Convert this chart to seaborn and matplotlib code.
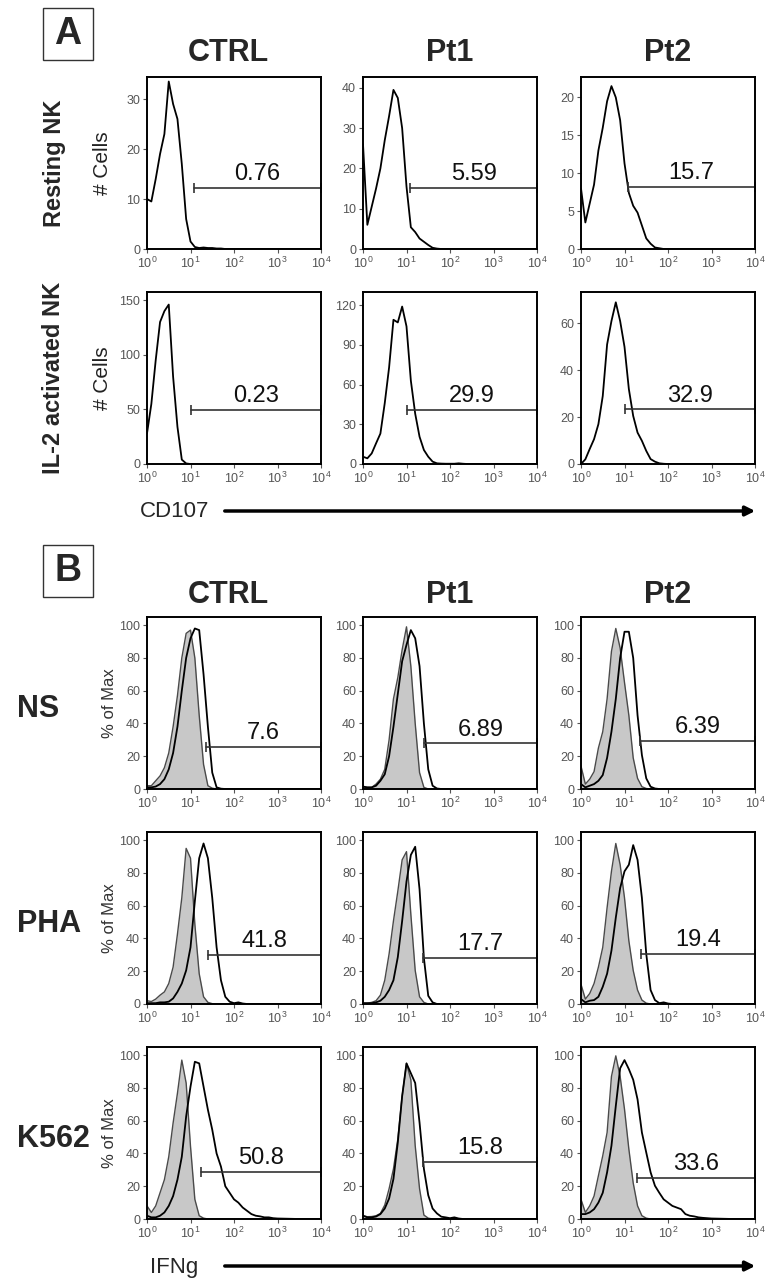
import numpy as np
import seaborn as sns
import matplotlib
matplotlib.use('Agg')
import matplotlib.pyplot as plt
from matplotlib.patches import Rectangle, FancyArrowPatch
from matplotlib.ticker import LogLocator, NullFormatter

# log10 of the fluorescence channel, shared by every histogram
LOG_X = [0.0, 0.1, 0.2, 0.3, 0.4, 0.5, 0.6, 0.7, 0.8, 0.9,
         1.0, 1.1, 1.2, 1.3, 1.4, 1.5, 1.6, 1.7, 1.8, 1.9,
         2.0, 2.1, 2.2, 2.3, 2.4, 2.5, 2.6, 2.7, 2.8, 2.9,
         3.0, 3.5, 4.0]

COLUMNS = ['CTRL', 'Pt1', 'Pt2']
A_ROWS = ['Resting NK', 'IL-2 activated NK']
B_ROWS = ['NS', 'PHA', 'K562']

# ---- A: CD107, # cells ----
A_REST_CTRL = [10, 9.5, 14, 19, 23, 33.5, 29, 26, 17, 6, 1.5, 0.4, 0.2, 0.3, 0.2, 0.2, 0.1, 0.1,
               0, 0, 0, 0, 0, 0, 0, 0, 0, 0, 0, 0, 0, 0, 0]
A_REST_PT1 = [26, 6, 10.5, 15, 20, 27, 33, 39.5, 37.5, 30, 15.5, 5.4, 4.2, 2.6, 1.8, 1.0, 0.3, 0.1,
              0, 0, 0, 0, 0, 0, 0, 0, 0, 0, 0, 0, 0, 0, 0]
A_REST_PT2 = [8, 3.5, 6, 8.5, 13, 16, 19.5, 21.5, 20, 17, 11.3, 7.4, 5.7, 4.8, 3.1, 1.4, 0.7, 0.2, 0.1,
              0, 0, 0, 0, 0, 0, 0, 0, 0, 0, 0, 0, 0, 0]
A_IL2_CTRL = [28, 55, 95, 130, 140, 146, 80, 34, 4, 0.5,
              0, 0, 0, 0, 0, 0, 0, 0, 0, 0, 0, 0, 0, 0, 0, 0, 0, 0, 0, 0, 0, 0, 0]
A_IL2_PT1 = [5.5, 4.3, 8, 15.6, 23, 46, 73, 109, 107, 119, 104, 63, 38, 20.6, 10.6, 5.5, 1.8, 0.5,
             0.3, 0.2, 0.2, 0.2, 0.5, 0.2, 0, 0, 0, 0, 0, 0, 0, 0, 0]
A_IL2_PT2 = [0, 2, 6.4, 10.6, 17, 29, 51, 61, 69, 61, 50, 32, 20.5, 13.4, 9.9, 5.6, 2.1, 1, 0.3, 0.1,
             0, 0, 0, 0, 0, 0, 0, 0, 0, 0, 0, 0, 0]

A_YMAX = [[34.4, 42.7, 22.7], [157.5, 130, 73.4]]
A_YTICKS = [[[0, 10, 20, 30], [0, 10, 20, 30, 40], [0, 5, 10, 15, 20]],
            [[0, 50, 100, 150], [0, 30, 60, 90, 120], [0, 20, 40, 60]]]
A_GATE_X = [[12, 12.3, 12.3], [10, 10, 10.2]]
A_GATE_Y = [[12.2, 15.2, 8.2], [49.5, 40.8, 23.3]]
A_PCT = [['0.76', '5.59', '15.7'], ['0.23', '29.9', '32.9']]

# ---- B: IFNg, % of max (gray = unstimulated, black = stimulated) ----
B_NS_CTRL_ISO = [2, 2, 5, 8, 13, 22, 38, 57, 80, 95, 97, 80, 45, 15, 2, 0.5,
                 0, 0, 0, 0, 0, 0, 0, 0, 0, 0, 0, 0, 0, 0, 0, 0, 0]
B_NS_CTRL_STIM = [1, 1, 1.5, 3, 6, 12, 22, 38, 60, 80, 92, 98, 97, 70, 38, 10, 1, 0.2,
                  0, 0, 0, 0, 0, 0, 0, 0, 0, 0, 0, 0, 0, 0, 0]
B_NS_PT1_ISO = [1, 1, 1, 3, 6, 12, 30, 55, 68, 85, 99, 75, 40, 10, 1,
                0, 0, 0, 0, 0, 0, 0, 0, 0, 0, 0, 0, 0, 0, 0, 0, 0, 0]
B_NS_PT1_STIM = [1.5, 1, 1, 2, 5, 9, 20, 38, 58, 78, 88, 97, 92, 75, 40, 12, 2, 0.3,
                 0, 0, 0, 0, 0, 0, 0, 0, 0, 0, 0, 0, 0, 0, 0]
B_NS_PT2_ISO = [14, 3, 6, 10.6, 25, 35, 55, 84, 98, 86, 65, 45, 19, 6.5, 1.4, 0.3,
                0, 0, 0, 0, 0, 0, 0, 0, 0, 0, 0, 0, 0, 0, 0, 0, 0]
B_NS_PT2_STIM = [3, 1, 2, 3, 5, 8.5, 19, 35, 55, 80, 96, 96, 80, 45, 20.7, 6.5, 1.4, 0.3,
                 0, 0, 0, 0, 0, 0, 0, 0, 0, 0, 0, 0, 0, 0, 0]

B_PHA_CTRL_ISO = [2, 1.5, 3, 5.4, 7.4, 12.5, 22.5, 42.7, 64.8, 95, 89, 48.7, 18.5, 4.4, 1, 0.2,
                  0, 0, 0, 0, 0, 0, 0, 0, 0, 0, 0, 0, 0, 0, 0, 0, 0]
B_PHA_CTRL_STIM = [0.5, 0.5, 0.5, 1, 1, 1.4, 3.4, 7.4, 12.5, 20.5, 34.6, 62.8, 89, 98, 89, 64.8,
                   34.6, 14.5, 4.4, 1.4, 0.5, 1, 0.3, 0, 0, 0, 0, 0, 0, 0, 0, 0, 0]
B_PHA_PT1_ISO = [0.5, 0.5, 1, 2, 5.4, 14.5, 30.6, 50.7, 68.8, 88, 93, 54.7, 20.5, 4.4, 1,
                 0, 0, 0, 0, 0, 0, 0, 0, 0, 0, 0, 0, 0, 0, 0, 0, 0, 0]
B_PHA_PT1_STIM = [0.5, 0.5, 0.5, 1, 2, 4.4, 8.5, 14.5, 28.6, 50.7, 74.8, 91, 96, 70, 28, 5, 1,
                  0, 0, 0, 0, 0, 0, 0, 0, 0, 0, 0, 0, 0, 0, 0, 0]
B_PHA_PT2_ISO = [12, 3, 6.4, 12.5, 22.5, 34.6, 58.8, 81, 98, 85, 64.8, 38.6, 20.5, 8.5, 2.4, 0.5,
                 0, 0, 0, 0, 0, 0, 0, 0, 0, 0, 0, 0, 0, 0, 0, 0, 0]
B_PHA_PT2_STIM = [3, 1, 2, 2.4, 4.4, 10.5, 18.5, 32.6, 52.7, 70.8, 81, 85, 97, 88, 64.8, 30.6,
                  8.5, 2.4, 0.5, 1, 0.3, 0, 0, 0, 0, 0, 0, 0, 0, 0, 0, 0, 0]

B_K562_CTRL_ISO = [8, 4, 8, 16, 24, 38, 58.6, 76.8, 97, 83, 44.4, 12, 2, 0.5,
                   0, 0, 0, 0, 0, 0, 0, 0, 0, 0, 0, 0, 0, 0, 0, 0, 0, 0, 0]
B_K562_CTRL_STIM = [2, 1, 1, 2, 4, 8, 14, 24, 38, 62.6, 80.8, 96, 95, 80.8, 66.7, 54.5, 40, 32,
                    20, 16, 12, 10, 7, 5, 3, 2, 1.6, 1, 1, 0.5, 0.3, 0, 0]
B_K562_PT1_ISO = [2, 1.4, 1.5, 2, 3.4, 8.5, 18.5, 30.6, 48.7, 75, 95, 85, 44.7, 18.5, 2.4, 0.5,
                  0, 0, 0, 0, 0, 0, 0, 0, 0, 0, 0, 0, 0, 0, 0, 0, 0]
B_K562_PT1_STIM = [2, 1, 1, 1.5, 3, 6.4, 12.5, 24.5, 46.7, 75, 95, 89, 83, 58.8, 30.6, 14.5, 6.4,
                   3.4, 1.4, 1, 0.5, 1, 0.3, 0, 0, 0, 0, 0, 0, 0, 0, 0, 0]
B_K562_PT2_ISO = [12, 4, 8, 14, 26.4, 38.6, 52.8, 87, 99.6, 87, 67, 42.7, 22, 8, 2, 0.5,
                  0, 0, 0, 0, 0, 0, 0, 0, 0, 0, 0, 0, 0, 0, 0, 0, 0]
B_K562_PT2_STIM = [3, 3, 4, 6, 10, 16, 28.5, 44.7, 69, 92, 97, 91.5, 85, 73, 52.8, 40.6, 28.5,
                   20.3, 16, 12, 10, 8, 7, 6, 3, 2, 1.6, 1, 0.7, 0.5, 0.3, 0, 0]

B_ISO = [[B_NS_CTRL_ISO, B_NS_PT1_ISO, B_NS_PT2_ISO],
         [B_PHA_CTRL_ISO, B_PHA_PT1_ISO, B_PHA_PT2_ISO],
         [B_K562_CTRL_ISO, B_K562_PT1_ISO, B_K562_PT2_ISO]]
B_STIM = [[B_NS_CTRL_STIM, B_NS_PT1_STIM, B_NS_PT2_STIM],
          [B_PHA_CTRL_STIM, B_PHA_PT1_STIM, B_PHA_PT2_STIM],
          [B_K562_CTRL_STIM, B_K562_PT1_STIM, B_K562_PT2_STIM]]
B_YTICKS = [0, 20, 40, 60, 80, 100]
B_GATE_X = [[23, 25, 23], [25, 24, 23.5], [17.4, 24.5, 19.5]]
B_GATE_Y = [[25.5, 27.8, 29.3], [30, 28.3, 30.6], [28.7, 35, 25]]
B_PCT = [['7.6', '6.89', '6.39'], ['41.8', '17.7', '19.4'], ['50.8', '15.8', '33.6']]

A_HIST = [[A_REST_CTRL, A_REST_PT1, A_REST_PT2], [A_IL2_CTRL, A_IL2_PT1, A_IL2_PT2]]

sns.set_style('ticks')
plt.rcParams['font.family'] = ['Liberation Sans', 'DejaVu Sans']
plt.rcParams['mathtext.fontset'] = 'custom'
plt.rcParams['mathtext.rm'] = 'Liberation Sans'

W, H = 772, 1287
fig = plt.figure(figsize=(W / 100, H / 100), dpi=100)


def fx(px):
    return px / W


def fy(py):
    return 1 - py / H


COL_LEFT = [147, 363, 581]
COL_TITLE_X = [228, 450, 668]
PW, PH = 174, 172
A_TOP = [77, 292]
B_TOP = [617, 832, 1047]
CH = 10 ** np.array(LOG_X)


def panel(left, top, ymax, yticks, stim, iso, gx, gy, pct):
    ax = fig.add_axes([fx(left), fy(top + PH), PW / W, PH / H])
    if iso is not None:
        ax.fill_between(CH, iso, color='#c8c8c8', lw=0)
        sns.lineplot(x=CH, y=iso, ax=ax, color='#4a4a4a', lw=1.0)
    sns.lineplot(x=CH, y=stim, ax=ax, color='black', lw=1.3)
    ax.set_xscale('log')
    ax.set_xlim(1, 1e4)
    ax.set_ylim(0, ymax)
    ax.set_xticks([1, 10, 100, 1000, 10000])
    ax.set_xticklabels([r'$\mathregular{10^{%d}}$' % i for i in range(5)])
    ax.xaxis.set_minor_locator(LogLocator(base=10, subs=np.arange(2, 10)))
    ax.xaxis.set_minor_formatter(NullFormatter())
    ax.set_yticks(yticks)
    ax.set_yticklabels([str(t) for t in yticks])
    ax.tick_params(axis='both', which='major', direction='out', length=3, width=0.8,
                   colors='#555555', labelsize=9, pad=2)
    ax.tick_params(axis='x', which='minor', direction='out', length=1.8, width=0.6,
                   colors='#555555')
    for s in ax.spines.values():
        s.set_linewidth(1.4)
        s.set_color('black')
        s.set_visible(True)
    ax.set_xlabel('')
    ax.set_ylabel('')
    # gate
    ax.plot([gx, 1e4], [gy, gy], color='#333333', lw=1.2, clip_on=False)
    ax.plot([gx, 1e4], [gy, gy], ls='none', marker='|', ms=7, mew=1.2,
            color='#333333', clip_on=False)
    ax.annotate(pct, xy=(np.sqrt(gx * 1e4), gy), xytext=(0, 2), textcoords='offset points',
                ha='center', va='bottom', fontsize=17, color='#111111')
    return ax


for r in range(2):
    for c in range(3):
        panel(COL_LEFT[c], A_TOP[r], A_YMAX[r][c], A_YTICKS[r][c], A_HIST[r][c], None,
              A_GATE_X[r][c], A_GATE_Y[r][c], A_PCT[r][c])
for r in range(3):
    for c in range(3):
        panel(COL_LEFT[c], B_TOP[r], 105, B_YTICKS, B_STIM[r][c], B_ISO[r][c],
              B_GATE_X[r][c], B_GATE_Y[r][c], B_PCT[r][c])

# panel letters
for letter, (bx, by) in zip(['A', 'B'], [(43, 8), (43, 545)]):
    fig.add_artist(Rectangle((fx(bx), fy(by + 52)), 50 / W, 52 / H, transform=fig.transFigure,
                             fill=False, ec='#333333', lw=1.0))
    fig.text(fx(bx + 25), fy(by + 26), letter, ha='center', va='center',
             fontsize=27, fontweight='bold')

# column titles
for base in [61, 603]:
    for c, name in enumerate(COLUMNS):
        fig.text(fx(COL_TITLE_X[c]), fy(base), name, ha='center', va='baseline',
                 fontsize=22, fontweight='bold')

# row labels A
for r, name in enumerate(A_ROWS):
    yc = A_TOP[r] + PH / 2
    fig.text(fx(54), fy(yc), name, rotation=90, ha='center', va='center',
             fontsize=17, fontweight='bold')
    fig.text(fx(102), fy(yc), '# Cells', rotation=90, ha='center', va='center',
             fontsize=15, color='#222222')

# row labels B
for r, name in enumerate(B_ROWS):
    yc = B_TOP[r] + PH / 2 + 6
    fig.text(fx(17), fy(yc), name, ha='left', va='center', fontsize=22, fontweight='bold')
    fig.text(fx(110), fy(B_TOP[r] + PH / 2), '% of Max', rotation=90, ha='center',
             va='center', fontsize=12, color='#333333')

# axis names with arrows
fig.text(fx(140), fy(511), 'CD107', ha='left', va='center', fontsize=16)
fig.text(fx(150), fy(1267), 'IFNg', ha='left', va='center', fontsize=16)
for ya in [511, 1266]:
    fig.add_artist(FancyArrowPatch((fx(222), fy(ya)), (fx(758), fy(ya)),
                                   transform=fig.transFigure, arrowstyle='-|>',
                                   mutation_scale=14, lw=2.5, color='black'))

fig.savefig('out.png', dpi=100)
